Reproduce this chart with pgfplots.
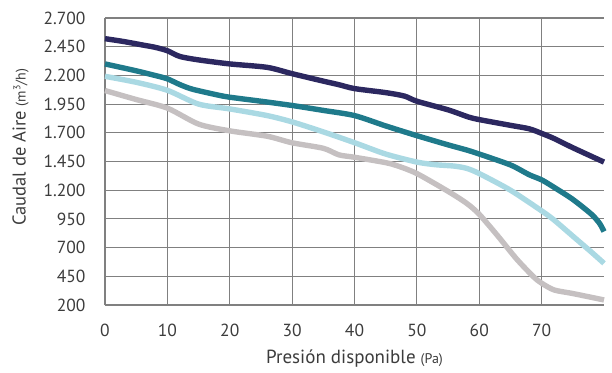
\documentclass[border=0pt]{standalone}
\usepackage{pgfplots}
\pgfplotsset{compat=1.18}
\usepackage{fontspec}
\setmainfont{PT Sans}
\definecolor{cnavy}{RGB}{44,40,96}
\definecolor{cteal}{RGB}{31,122,139}
\definecolor{clight}{RGB}{170,217,227}
\definecolor{cgray}{RGB}{197,192,193}
\definecolor{cgrid}{RGB}{128,128,128}
\definecolor{ctext}{RGB}{60,60,60}
\begin{document}
\begin{tikzpicture}
\begin{axis}[
  scale only axis, width=499pt, height=287pt,
  xmin=0, xmax=80, ymin=200, ymax=2700,
  xtick={0,10,...,70}, ytick={200,450,...,2700},
  axis x line*=bottom, axis y line*=left,
  axis line style={cgrid, line width=1.2pt, -},
  grid=major, grid style={cgrid, line width=1.1pt},
  major tick length=0pt,
  /pgf/number format/.cd, 1000 sep={.}, assume math mode=true,
  /pgfplots/.cd,
  tick label style={font=\fontsize{17.5}{19}\selectfont, text=ctext},
  xticklabel style={yshift=-16pt},
  yticklabel style={xshift=-16pt},
  xlabel={\fontsize{19}{21}\selectfont Presión disponible {\fontsize{14}{16}\selectfont(Pa)}},
  ylabel={\fontsize{18.5}{20}\selectfont Caudal de Aire {\fontsize{14}{16}\selectfont(m\textsuperscript{3}/h)}},
  label style={text=ctext},
  xlabel style={yshift=-6pt},
  ylabel style={yshift=8pt, at={(ticklabel cs:0.55)}},
  clip=false,
  every axis plot/.append style={line width=5.4pt, smooth, tension=0.45, no markers, line cap=butt},
]
\addplot[cgray] coordinates {(0,2068)(5,1990)(10,1915)(15,1776)(20,1717)(26,1670)(30,1613)(35,1565)(37.5,1508)(40,1487)(45,1440)(47,1410)(50,1345)(55,1190)(58,1085)(60,990)(63,800)(66,600)(68.7,446)(70,390)(72,331)(75,300)(80,244)};
\addplot[clight] coordinates {(0,2192)(5,2140)(10,2070)(15,1950)(20,1908)(26,1850)(30,1795)(35,1708)(40,1614)(45,1515)(50,1445)(53,1422)(56,1410)(58,1390)(60,1345)(65,1200)(70,1020)(72,940)(75,800)(78,660)(80,563)};
\addplot[cteal] coordinates {(0,2300)(5,2240)(8,2200)(10,2170)(12,2120)(14,2080)(18,2030)(20,2010)(25,1975)(30,1938)(35,1895)(40,1850)(45,1760)(50,1675)(55,1595)(58,1550)(60,1515)(65,1420)(68,1335)(70,1290)(72,1225)(75,1120)(78,990)(79.3,910)(80,840)};
\addplot[cnavy] coordinates {(0,2520)(3,2495)(6,2465)(8,2445)(10,2415)(12,2365)(15,2335)(20,2300)(26,2270)(30,2215)(35,2150)(37.5,2119)(40,2085)(45,2050)(48,2020)(50,1975)(55,1900)(58.3,1837)(60,1815)(65,1765)(68,1735)(70,1695)(72,1650)(75,1570)(80,1445)};
\end{axis}
\pgfresetboundingbox
\path[use as bounding box] (-105pt,-67pt) rectangle (507pt,305pt);
\end{tikzpicture}
\end{document}
